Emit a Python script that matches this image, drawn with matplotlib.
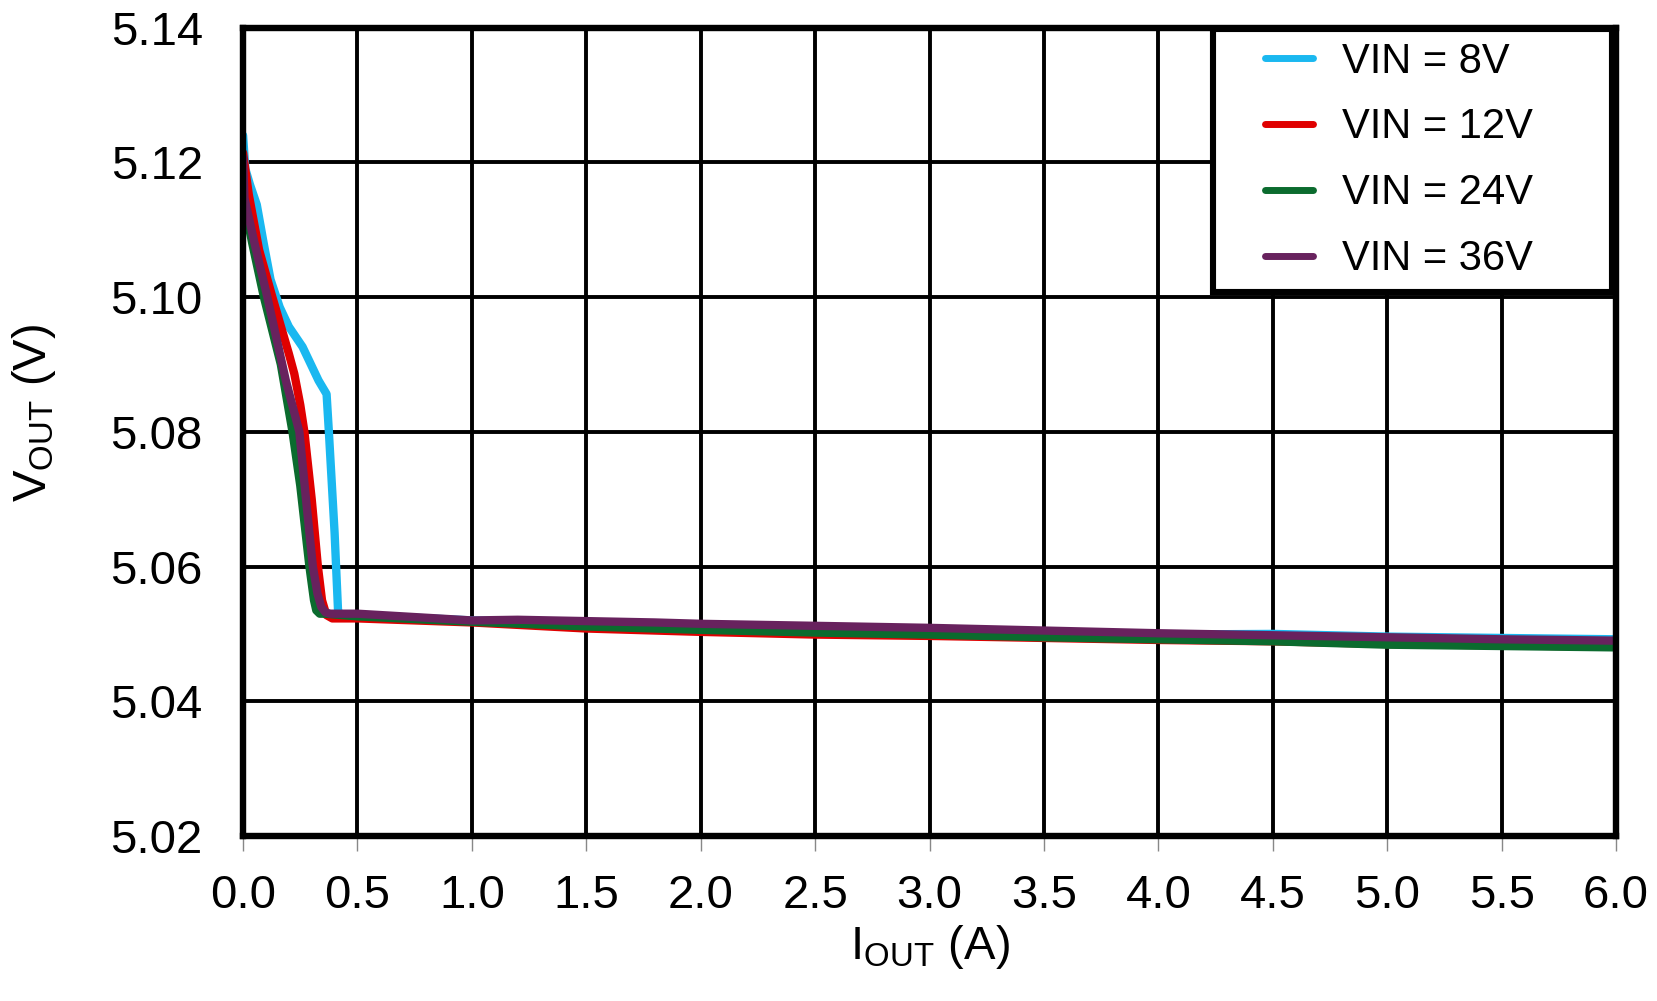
import matplotlib
matplotlib.use("Agg")
from matplotlib import pyplot as plt
from matplotlib.legend_handler import HandlerLine2D

# Output current (A) and output voltage (V) per input voltage
i_8v = [0.0, 0.01, 0.03, 0.06, 0.09, 0.12, 0.16, 0.20, 0.26, 0.33, 0.365, 0.375, 0.40, 0.415, 0.43,
        0.5, 1.0, 1.5, 2.0, 2.5, 3.0, 3.5, 4.0, 4.5, 5.0, 5.5, 6.0]
v_8v = [5.124, 5.119, 5.1167, 5.1137, 5.108, 5.1026, 5.0985, 5.0956, 5.0926, 5.0876, 5.0856, 5.080, 5.065,
        5.0535, 5.0525, 5.0528, 5.0520, 5.0517, 5.0514, 5.0510, 5.0506, 5.0502, 5.0499, 5.0500, 5.0496,
        5.0494, 5.0492]

i_12v = [0.0, 0.025, 0.07, 0.128, 0.20, 0.224, 0.25, 0.268, 0.30, 0.327, 0.345, 0.364, 0.39,
         0.5, 1.0, 1.5, 2.0, 2.5, 3.0, 3.5, 4.0, 4.5, 5.0, 5.5, 6.0]
v_12v = [5.1214, 5.1152, 5.107, 5.100, 5.0916, 5.0886, 5.084, 5.080, 5.070, 5.060, 5.055, 5.0528, 5.0523,
         5.0523, 5.0517, 5.0508, 5.0503, 5.0499, 5.0497, 5.0494, 5.0491, 5.0489, 5.0485, 5.0483, 5.0481]

i_24v = [0.0, 0.04, 0.091, 0.165, 0.216, 0.25, 0.29, 0.31, 0.32, 0.335, 0.36,
         0.5, 1.0, 1.5, 2.0, 2.5, 3.0, 3.5, 4.0, 4.5, 5.0, 5.5, 6.0]
v_24v = [5.1147, 5.108, 5.100, 5.090, 5.080, 5.072, 5.060, 5.055, 5.0535, 5.053, 5.053,
         5.0526, 5.0518, 5.0511, 5.0506, 5.0502, 5.0499, 5.0495, 5.0492, 5.0489, 5.0484, 5.0482, 5.0480]

i_36v = [0.0, 0.006, 0.05, 0.106, 0.187, 0.246, 0.275, 0.305, 0.325, 0.342, 0.36, 0.38,
         0.5, 1.0, 1.2, 1.5, 1.8, 2.0, 2.5, 3.0, 3.5, 4.0, 4.5, 5.0, 5.5, 6.0]
v_36v = [5.1207, 5.1147, 5.108, 5.100, 5.0876, 5.080, 5.070, 5.060, 5.056, 5.0540, 5.0532, 5.0530,
         5.0530, 5.0520, 5.0521, 5.0519, 5.0517, 5.0515, 5.0512, 5.0509, 5.0505, 5.0501, 5.0498, 5.0495,
         5.0492, 5.0490]

labels = ["VIN = 8V", "VIN = 12V", "VIN = 24V", "VIN = 36V"]
colors = ["#1AB8F0", "#E00000", "#0B6B2E", "#68225E"]
x_ticks = [0.0, 0.5, 1.0, 1.5, 2.0, 2.5, 3.0, 3.5, 4.0, 4.5, 5.0, 5.5, 6.0]
y_ticks = [5.02, 5.04, 5.06, 5.08, 5.10, 5.12, 5.14]

plt.rcParams["font.family"] = ["Liberation Sans", "DejaVu Sans"]
plt.rcParams["mathtext.fontset"] = "custom"
plt.rcParams["mathtext.rm"] = "Liberation Sans"

fig = plt.figure(figsize=(16.58, 10.01), dpi=100)
ax = fig.add_axes([0.1466, 0.1648, 0.9747 - 0.1466, 0.9725 - 0.1648])

series = [(i_8v, v_8v), (i_12v, v_12v), (i_24v, v_24v), (i_36v, v_36v)]
for (xs, ys), lab, col in zip(series, labels, colors):
    ax.plot(xs, ys, color=col, lw=6, label=lab, solid_capstyle="round", solid_joinstyle="round")

ax.set_xlim(0, 6)
ax.set_ylim(5.02, 5.14)
ax.set_xticks(x_ticks)
ax.set_xticklabels(["%.1f" % t for t in x_ticks])
ax.set_yticks(y_ticks)
ax.set_yticklabels(["%.2f" % t for t in y_ticks])
ax.grid(True, color="black", lw=2.8)
ax.set_axisbelow(True)
for sp in ax.spines.values():
    sp.set_linewidth(4.6)
    sp.set_zorder(5)

ax.tick_params(axis="x", direction="out", length=10.8, width=1, color="#888888", pad=16.5, labelsize=34)
ax.tick_params(axis="y", length=0, pad=29, labelsize=34)

ax.set_xlabel(r"I$_{\mathregular{OUT}}$ (A)", fontsize=34)
ax.set_ylabel(r"V$_{\mathregular{OUT}}$ (V)", fontsize=34)
ax.xaxis.set_label_coords(0.5, -0.1076)
ax.yaxis.set_label_coords(-0.135, 0.523)

leg = ax.legend(loc="upper left", bbox_to_anchor=(0.7065, 0.679, 0.2906, 0.319), mode="expand",
                fontsize=30, frameon=True, fancybox=False, handlelength=2.11, handletextpad=0.68,
                labelspacing=0.62, borderpad=0.3, borderaxespad=0.0,
                handler_map={plt.Line2D: HandlerLine2D(xpad=0.935)})
leg.get_frame().set_edgecolor("black")
leg.get_frame().set_linewidth(4.4)
leg.get_frame().set_alpha(1)
for ln in leg.get_lines():
    ln.set_linewidth(5)
    ln.set_solid_capstyle("round")
leg.set_zorder(6)

fig.savefig("out.png", dpi=100)
